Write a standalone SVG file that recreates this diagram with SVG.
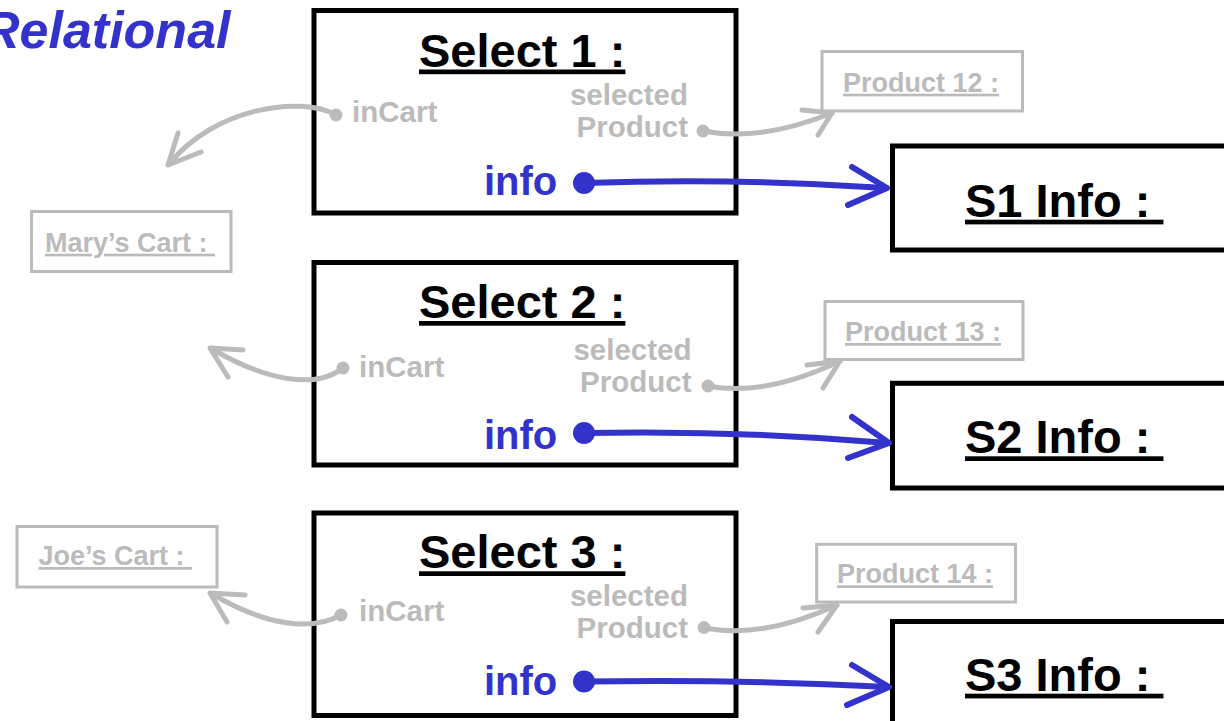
<svg xmlns="http://www.w3.org/2000/svg" width="1224" height="721" viewBox="0 0 1224 721">
  <style>
    text { font-family: "Liberation Sans", Arial, sans-serif; font-weight: bold; white-space: pre; }
    .title { font-size: 47px; fill: #000; text-decoration: underline; }
    .heading { font-size: 52px; fill: #3333cc; font-style: italic; }
    .attr { font-size: 29.5px; fill: #bbbbbb; }
    .info { font-size: 40px; fill: #3333cc; }
    .ghost { font-size: 27px; fill: #bbbbbb; text-decoration: underline; }
    .box { fill: #fff; stroke: #000; stroke-width: 5; }
    .gbox { fill: #fff; stroke: #bbbbbb; stroke-width: 3; }
    .gline { fill: none; stroke: #bbbbbb; stroke-width: 5; stroke-linecap: round; stroke-linejoin: round; }
    .bline { fill: none; stroke: #3333cc; stroke-width: 6; stroke-linecap: round; stroke-linejoin: round; }
    .gdot { fill: #bbbbbb; }
    .bdot { fill: #3333cc; }
  </style>

  <rect width="1224" height="721" fill="#fff"/>

  <text class="heading" x="-18" y="48">Relational</text>

  <!-- Select objects -->
  <g id="select1">
    <rect class="box" x="314" y="10.5" width="422" height="202.5"/>
    <text class="title" x="419" y="66.5">Select 1 :</text>
    <text class="attr" x="352" y="121.7">inCart</text>
    <text class="attr" x="688" y="105" text-anchor="end">selected</text>
    <text class="attr" x="688" y="137" text-anchor="end">Product</text>
    <text class="info" x="484" y="195">info</text>
  </g>
  <g id="select2">
    <rect class="box" x="314" y="262.5" width="422" height="202.5"/>
    <text class="title" x="419" y="318">Select 2 :</text>
    <text class="attr" x="359" y="377.3">inCart</text>
    <text class="attr" x="691.5" y="360" text-anchor="end">selected</text>
    <text class="attr" x="691.5" y="391.7" text-anchor="end">Product</text>
    <text class="info" x="484" y="449">info</text>
  </g>
  <g id="select3">
    <rect class="box" x="314" y="513" width="422" height="202.5"/>
    <text class="title" x="419" y="568.3">Select 3 :</text>
    <text class="attr" x="359" y="620.7">inCart</text>
    <text class="attr" x="688" y="606" text-anchor="end">selected</text>
    <text class="attr" x="688" y="638.3" text-anchor="end">Product</text>
    <text class="info" x="484" y="695">info</text>
  </g>

  <!-- Info objects -->
  <g id="s1info">
    <rect class="box" x="892.5" y="146" width="400" height="104"/>
    <text class="title" x="965" y="216.7">S1 Info : </text>
  </g>
  <g id="s2info">
    <rect class="box" x="892.5" y="383.3" width="400" height="104.7"/>
    <text class="title" x="965" y="453.3">S2 Info : </text>
  </g>
  <g id="s3info">
    <rect class="box" x="892.5" y="621.5" width="400" height="120"/>
    <text class="title" x="965" y="690.7">S3 Info : </text>
  </g>

  <!-- Faded related objects -->
  <g id="product12">
    <rect class="gbox" x="822" y="51.5" width="200.5" height="59.5"/>
    <text class="ghost" x="843" y="91.7">Product 12 :</text>
  </g>
  <g id="product13">
    <rect class="gbox" x="825" y="301.5" width="198" height="58"/>
    <text class="ghost" x="845" y="341">Product 13 :</text>
  </g>
  <g id="product14">
    <rect class="gbox" x="816.7" y="544.3" width="198.8" height="57.7"/>
    <text class="ghost" x="837" y="583.3">Product 14 :</text>
  </g>
  <g id="maryCart">
    <rect class="gbox" x="31.5" y="211.5" width="199.5" height="60"/>
    <text class="ghost" x="45" y="251.7">Mary’s Cart : </text>
  </g>
  <g id="joeCart">
    <rect class="gbox" x="17" y="526.5" width="200" height="60.5"/>
    <text class="ghost" x="38.5" y="565">Joe’s Cart : </text>
  </g>

  <!-- Links -->
  <g id="connectors">
    <!-- inCart links -->
    <circle class="gdot" cx="336" cy="115" r="6.5"/>
    <path class="gline" d="M336,115 C300,95 215,108 170,163"/>
    <path class="gline" d="M178,133 L168,165 L201,152"/>
    <circle class="gdot" cx="343" cy="368" r="6.5"/>
    <path class="gline" d="M343,368 C315,390 265,380 212,349"/>
    <path class="gline" d="M243,350 L210,348 L228,377"/>
    <circle class="gdot" cx="341" cy="615" r="6.5"/>
    <path class="gline" d="M341,615 C310,632 265,625 212,594"/>
    <path class="gline" d="M245,595 L210,593 L227,622"/>

    <!-- selectedProduct links -->
    <circle class="gdot" cx="703" cy="131" r="6.5"/>
    <path class="gline" d="M703,131 Q760,142 832,113"/>
    <path class="gline" d="M802,110 L832,113 L818,135"/>
    <circle class="gdot" cx="708" cy="386" r="6.5"/>
    <path class="gline" d="M708,386 Q765,397 840,361"/>
    <path class="gline" d="M807,365 L840,361 L823,388"/>
    <circle class="gdot" cx="704" cy="627.5" r="6.5"/>
    <path class="gline" d="M704,627.5 Q760,640 837,605"/>
    <path class="gline" d="M803,608 L837,605 L818,632"/>

    <!-- info links -->
    <circle class="bdot" cx="584" cy="183" r="11"/>
    <path class="bline" d="M584,183 Q740,178 886,188"/>
    <path class="bline" d="M852,167 L887,188 L848,205"/>
    <circle class="bdot" cx="584" cy="433" r="11"/>
    <path class="bline" d="M584,433 Q740,430 888,443"/>
    <path class="bline" d="M852,417 L889,443 L848,458"/>
    <circle class="bdot" cx="584" cy="681.5" r="11"/>
    <path class="bline" d="M584,681.5 Q740,679 888,687"/>
    <path class="bline" d="M852,665 L889,687 L847,705"/>
  </g>
</svg>
